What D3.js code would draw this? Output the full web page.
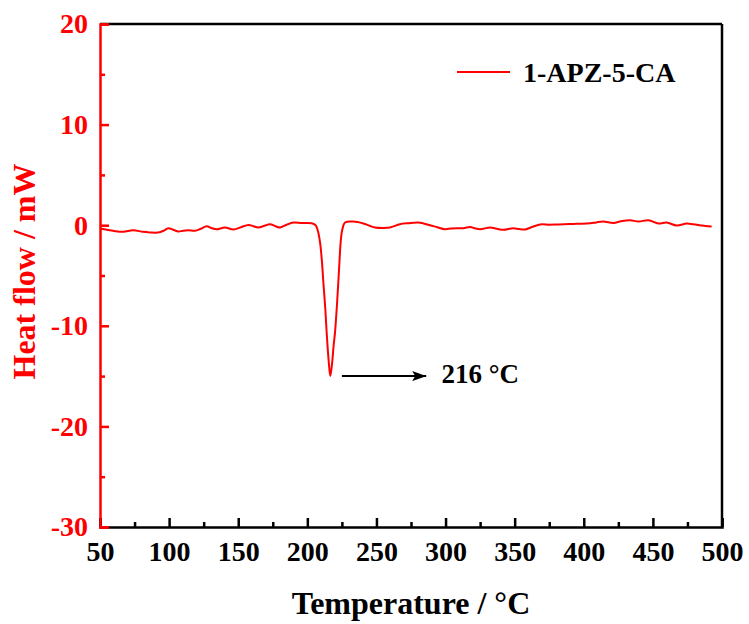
<!DOCTYPE html>
<html>
<head>
<meta charset="utf-8">
<script src="https://cdn.jsdelivr.net/npm/d3@7"></script>
<style>
  body { margin: 0; background: #fff; }
  text { font-family: "Liberation Serif", "Times New Roman", serif; font-weight: bold; }
</style>
</head>
<body>
<div id="chart-area"></div>
<script>
// DSC curve
var temperature = [50, 55, 61, 67, 74, 81, 86, 92, 96, 99.4, 103, 106.7, 110, 113.9, 118.7, 123, 127.2, 131, 134.4,
  140.4, 146.5, 152, 157.3, 161, 164.5, 169, 173, 177, 180.2, 185, 189.9, 196, 203.2, 206, 207.5, 209.2, 210.5,
  211.6, 213, 214, 215.5, 216.6, 218, 219, 220, 221.3, 222.4, 223.3, 224.1, 225.2, 227.3, 233.3, 240.5, 245, 249,
  255, 259.8, 267, 273, 280.3, 288.8, 294, 299.6, 304, 308.1, 313, 317.7, 321, 325, 332.2, 337, 341.8, 349, 353,
  357.5, 362, 368.4, 375, 380.4, 386, 392.5, 398, 404.6, 409, 414.2, 421.5, 427, 433.5, 439.5, 446.8, 454, 460,
  467.2, 474.4, 479, 484.1, 488, 492.5];
var heatFlow = [-0.33, -0.45, -0.6, -0.66, -0.5, -0.66, -0.72, -0.73, -0.55, -0.3, -0.45, -0.63, -0.55, -0.5, -0.56,
  -0.35, -0.1, -0.3, -0.4, -0.23, -0.43, -0.2, 0.03, -0.1, -0.23, -0.05, 0.1, -0.1, -0.23, 0.05, 0.27, 0.22, 0.2,
  0.0, -0.5, -1.7, -3.5, -5.7, -8.3, -10.7, -13.6, -15.0, -13.6, -12, -10.7, -8.2, -5.7, -3.5, -1.7, -0.5, 0.27,
  0.36, 0.17, -0.05, -0.23, -0.28, -0.23, 0.1, 0.2, 0.27, 0.0, -0.2, -0.4, -0.33, -0.3, -0.3, -0.17, -0.3, -0.4,
  -0.23, -0.35, -0.46, -0.3, -0.38, -0.43, -0.2, 0.07, 0.05, 0.07, 0.1, 0.13, 0.15, 0.2, 0.28, 0.36, 0.23, 0.4,
  0.5, 0.36, 0.5, 0.17, 0.27, -0.03, 0.17, 0.1, 0.0, -0.08, -0.13];

var xMajor = [50, 100, 150, 200, 250, 300, 350, 400, 450, 500];
var xMinor = [75, 125, 175, 225, 275, 325, 375, 425, 475];
var yMajor = [-30, -20, -10, 0, 10, 20];
var yMinor = [-25, -15, -5, 5, 15];

var seriesName = "1-APZ-5-CA";
var peakLabel = "216 °C";
var peakT = 216.6, peakH = -15.0;

var red = "#ff0000";

// plain hyphen for negatives, like the original
var fmt = function(d) { return String(d); };

var margin = { top: 24, right: 27, bottom: 97, left: 100 };
var width = 749 - margin.left - margin.right,
    height = 624 - margin.top - margin.bottom;

var svg = d3.select("#chart-area")
  .append("svg")
    .attr("width", 749)
    .attr("height", 624);

var defs = svg.append("defs");
defs.append("marker")
    .attr("id", "arrow")
    .attr("viewBox", "0 0 14 10")
    .attr("refX", 14)
    .attr("refY", 5)
    .attr("markerWidth", 14)
    .attr("markerHeight", 10)
    .attr("markerUnits", "userSpaceOnUse")
    .attr("orient", "auto")
  .append("path")
    .attr("d", "M0,0 L14,5 L0,10 L3,5 Z")
    .attr("fill", "#000");

var g = svg.append("g")
    .attr("transform", "translate(" + margin.left + ", " + margin.top + ")");

var x = d3.scaleLinear().domain([50, 500]).range([0, width]);
var y = d3.scaleLinear().domain([-30, 20]).range([height, 0]);

// frame: top and right
g.append("line")
  .attr("x1", 0).attr("x2", width).attr("y1", 0).attr("y2", 0)
  .attr("stroke", "#000").attr("stroke-width", 2.5);
g.append("line")
  .attr("x1", width).attr("x2", width).attr("y1", 0).attr("y2", height)
  .attr("stroke", "#000").attr("stroke-width", 2.5);

// x-axis
var xAxis = g.append("g")
  .attr("transform", "translate(0, " + height + ")")
  .call(d3.axisBottom(x).tickValues(xMajor).tickSize(-9).tickPadding(14).tickFormat(fmt));
g.append("g")
  .attr("transform", "translate(0, " + height + ")")
  .call(d3.axisBottom(x).tickValues(xMinor).tickSize(-5).tickFormat(""))
  .select(".domain").remove();

xAxis.select(".domain").attr("stroke", "#000").attr("stroke-width", 2.5);
g.selectAll(".tick line").attr("stroke", "#000").attr("stroke-width", 2.5);
xAxis.selectAll("text")
  .attr("fill", "#000")
  .style("font-size", "28px");

// y-axis
var yAxis = g.append("g")
  .call(d3.axisLeft(y).tickValues(yMajor).tickSize(-9).tickPadding(12).tickFormat(fmt));
var yMinorAxis = g.append("g")
  .call(d3.axisLeft(y).tickValues(yMinor).tickSize(-5).tickFormat(""));
yMinorAxis.select(".domain").remove();

yAxis.select(".domain").attr("stroke", red).attr("stroke-width", 2.5);
yAxis.selectAll(".tick line").attr("stroke", red).attr("stroke-width", 2.5);
yMinorAxis.selectAll(".tick line").attr("stroke", red).attr("stroke-width", 2.5);
yAxis.selectAll("text")
  .attr("fill", red)
  .style("font-size", "28px");

// curve
var data = temperature.map(function(t, i) { return { t: t, h: heatFlow[i] }; });
var line = d3.line()
  .x(function(d) { return x(d.t); })
  .y(function(d) { return y(d.h); })
  .curve(d3.curveCatmullRom.alpha(0.5));

g.append("path")
  .datum(data)
  .attr("d", line)
  .attr("fill", "none")
  .attr("stroke", red)
  .attr("stroke-width", 2);

// peak annotation
g.append("line")
  .attr("x1", x(225)).attr("x2", x(286))
  .attr("y1", y(peakH)).attr("y2", y(peakH))
  .attr("stroke", "#000").attr("stroke-width", 2)
  .attr("marker-end", "url(#arrow)");
g.append("text")
  .attr("x", x(297))
  .attr("y", y(peakH) + 7)
  .style("font-size", "27px")
  .attr("fill", "#000")
  .text(peakLabel);

// legend
g.append("line")
  .attr("x1", 357).attr("x2", 410).attr("y1", 48).attr("y2", 48)
  .attr("stroke", red).attr("stroke-width", 2);
g.append("text")
  .attr("x", 423).attr("y", 58)
  .style("font-size", "28px")
  .attr("fill", "#000")
  .text(seriesName);

// x-label
g.append("text")
  .attr("x", width / 2)
  .attr("y", height + 87)
  .attr("text-anchor", "middle")
  .style("font-size", "32px")
  .attr("fill", "#000")
  .text("Temperature / °C");

// y-label
g.append("text")
  .attr("x", -(height / 2) + 4)
  .attr("y", -65)
  .attr("text-anchor", "middle")
  .attr("transform", "rotate(-90)")
  .style("font-size", "32px")
  .attr("fill", red)
  .text("Heat flow / mW");
</script>
</body>
</html>
